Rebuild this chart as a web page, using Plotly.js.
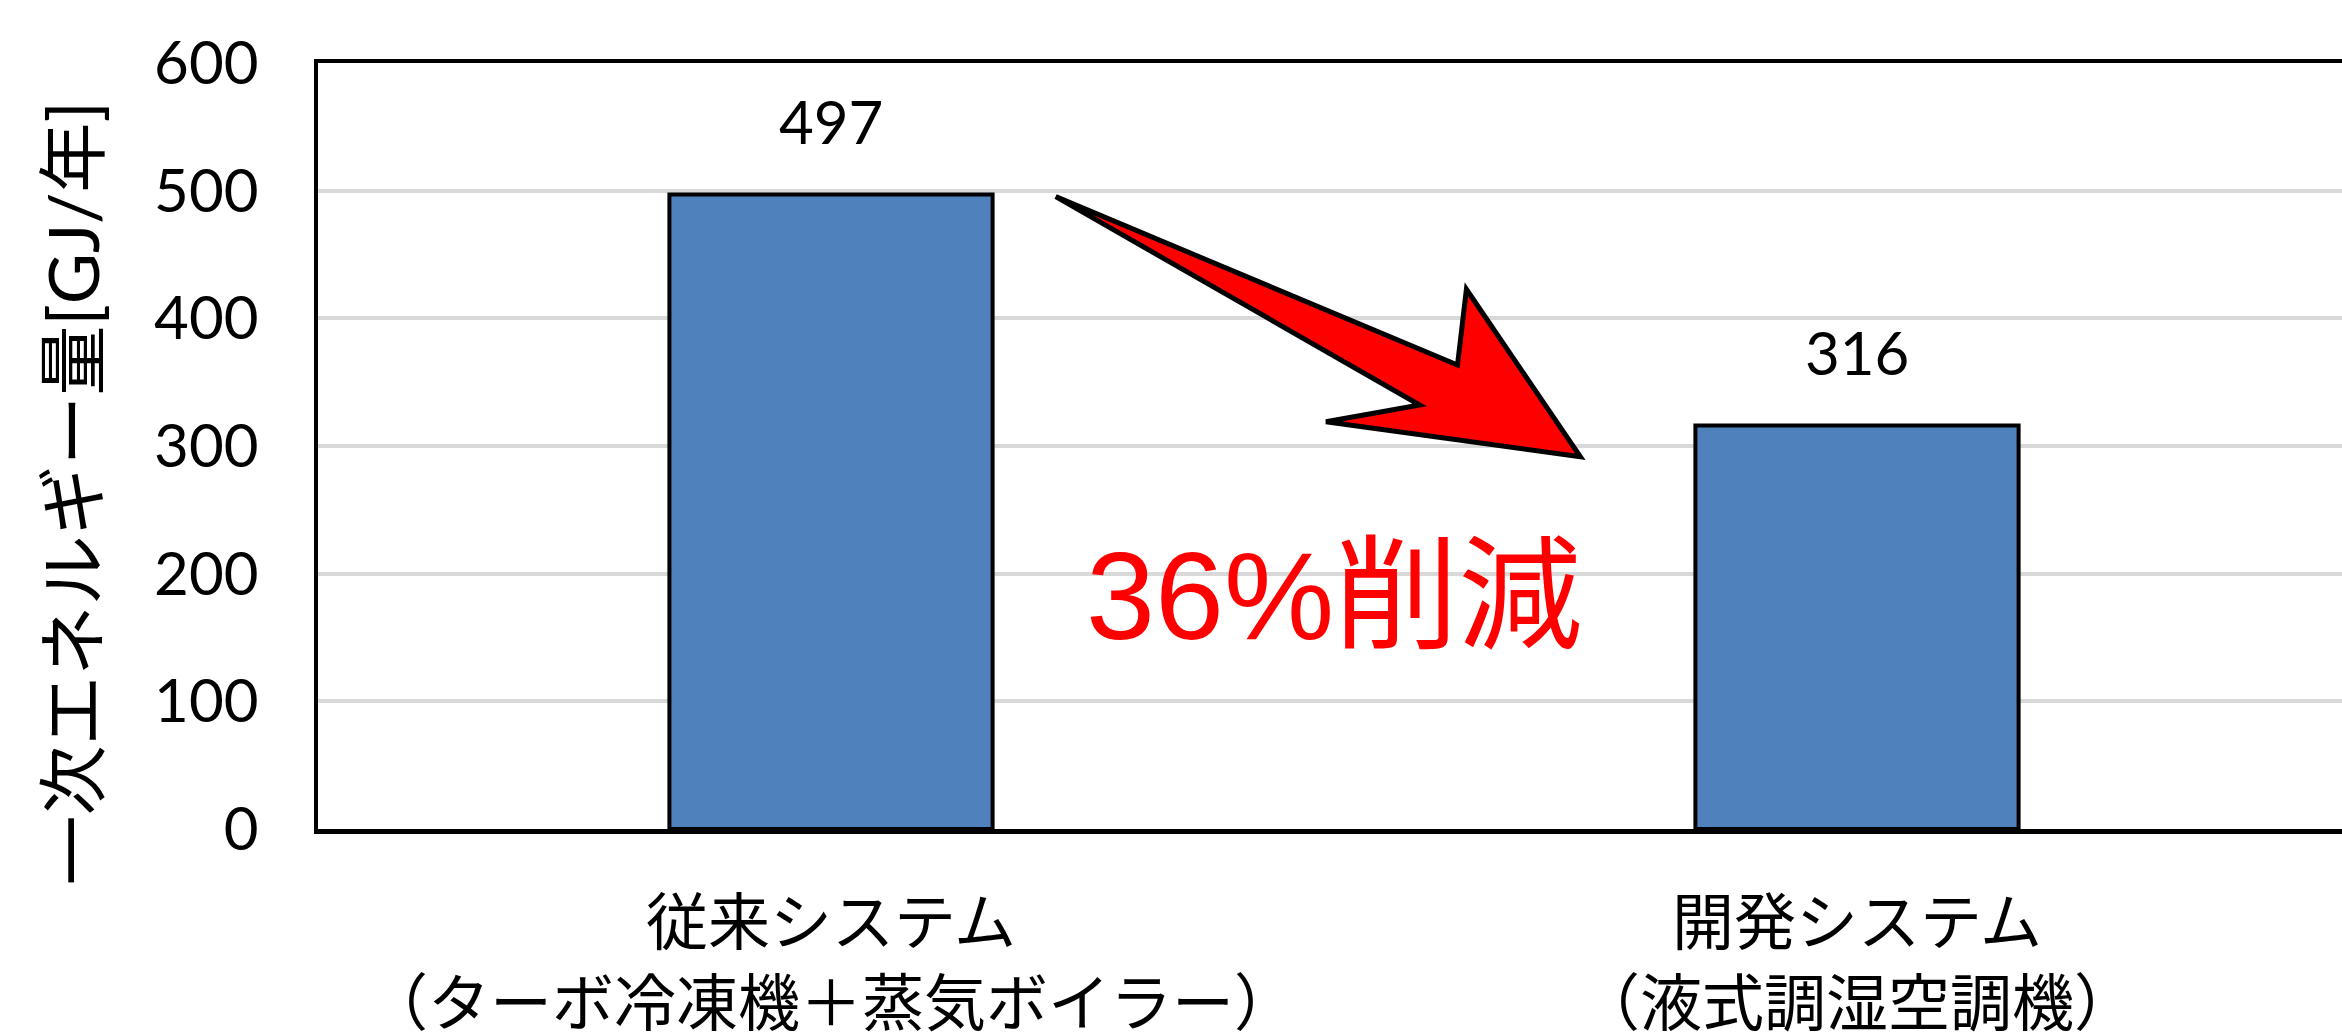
<!DOCTYPE html>
<html>
<head>
<meta charset="utf-8">
<script src="https://cdn.plot.ly/plotly-3.0.1.min.js"></script>
<style>html,body{margin:0;padding:0;background:#fff;}#chart{width:2342px;height:1034px;}</style>
</head>
<body>
<div id="chart"></div>
<script>
// ---- data ----
const categories = ["従来システム<br>（ターボ冷凍機＋蒸気ボイラー）", "開発システム<br>（液式調湿空調機）"];
const energy = [497, 316];
const yTicks = [0, 100, 200, 300, 400, 500, 600];
const yTitle = "一次エネルギー量[GJ/年]";
const reductionLabel = "36%削減";

const latin = "Lato, 'Noto Sans CJK JP', sans-serif";
const cjk = "'Noto Sans CJK JP', sans-serif";

const trace = {
  type: "bar",
  x: [0, 1],
  y: energy,
  width: 0.315,
  marker: { color: "#4F81BD", line: { color: "#000000", width: 4 } },
  hoverinfo: "none"
};

const annotations = energy.map((v, i) => ({
  x: i, y: v, xref: "x", yref: "y",
  text: String(v), showarrow: false,
  xanchor: "center", yanchor: "middle", yshift: 74,
  font: { family: latin, size: 60, color: "#000" }
}));

annotations.push({
  x: -0.1215, y: 0.438, xref: "paper", yref: "paper",
  text: yTitle, textangle: -90, showarrow: false,
  xanchor: "center", yanchor: "middle",
  font: { family: latin, size: 70, color: "#000" }
});

annotations.push({
  x: 0.502, y: 0.304, xref: "paper", yref: "paper",
  text: reductionLabel, showarrow: false,
  xanchor: "center", yanchor: "middle",
  font: { family: "'Liberation Sans', 'Noto Sans CJK JP', sans-serif", size: 124, color: "#FF0000" }
});

// decorative arrow (paper coordinates)
const arrowPts = [
  [0.3645, 0.8255], [0.5630, 0.6057], [0.5674, 0.7046], [0.6237, 0.4860],
  [0.4980, 0.5317], [0.5443, 0.5535]
];
const arrowPath = "M " + arrowPts.map(p => p[0] + "," + p[1]).join(" L ") + " Z";

const layout = {
  width: 2342, height: 1034,
  margin: { l: 318, r: 0, t: 63, b: 205, pad: 0 },
  paper_bgcolor: "#ffffff", plot_bgcolor: "#ffffff",
  showlegend: false,
  xaxis: {
    range: [-0.5, 1.4727],
    tickmode: "array", tickvals: [0, 1], ticktext: categories,
    showgrid: false, zeroline: false,
    showline: true, linecolor: "#000", linewidth: 4.5, mirror: true,
    ticks: "", ticklabelstandoff: 37,
    tickfont: { family: cjk, size: 62, color: "#000" }
  },
  yaxis: {
    range: [0, 600],
    tickmode: "array", tickvals: yTicks, ticktext: yTicks.map(String),
    showgrid: true, gridcolor: "#D9D9D9", gridwidth: 4,
    zeroline: false,
    showline: true, linecolor: "#000", linewidth: 4.5, mirror: false,
    ticks: "", ticklabelstandoff: 43,
    tickfont: { family: latin, size: 60, color: "#000" }
  },
  annotations: annotations,
  shapes: [{
    type: "path", xref: "paper", yref: "paper", layer: "above",
    path: arrowPath, fillcolor: "#FF0000",
    line: { color: "#000", width: 5 }
  }]
};

Plotly.newPlot("chart", [trace], layout, { displayModeBar: false, staticPlot: true });
</script>
</body>
</html>
